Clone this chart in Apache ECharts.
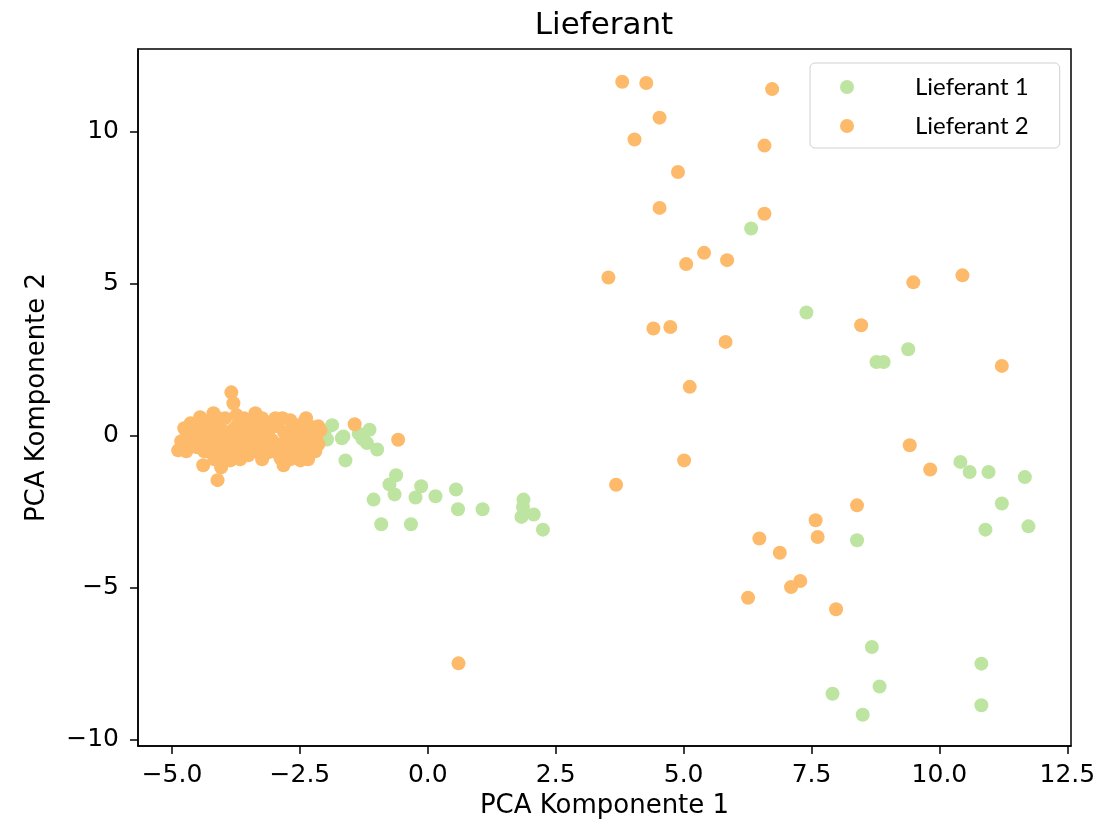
<!DOCTYPE html>
<html>
<head>
<meta charset="utf-8">
<script src="https://cdn.jsdelivr.net/npm/echarts@6/dist/echarts.min.js"></script>
<style>
  html, body { margin: 0; padding: 0; background: #fff; }
  #chart { width: 1119px; height: 829px; }
</style>
</head>
<body>
<div id="chart"></div>
<script>
// Daten (PCA Komponente 1, PCA Komponente 2)
var seriesNames = ['Lieferant 1', 'Lieferant 2'];
var xTicks = [-5, -2.5, 0, 2.5, 5, 7.5, 10, 12.5];
var yTicks = [-10, -5, 0, 5, 10];

var lieferant1 = [
    [-2.02, 0.12], [-1.87, 0.35], [-1.97, -0.12], [-1.68, -0.08], [-1.65, -0.02],
    [-1.35, 0.07], [-1.28, -0.10], [-1.14, 0.20], [-1.19, -0.24], [-0.99, -0.45],
    [-1.61, -0.81], [-0.62, -1.30], [-0.75, -1.60], [-0.65, -1.93], [-1.06, -2.10],
    [-0.13, -1.66], [-0.24, -2.03], [0.15, -1.99], [0.55, -1.77], [0.59, -2.42],
    [1.07, -2.42], [-0.91, -2.91], [-0.33, -2.91], [1.87, -2.10], [1.86, -2.34],
    [2.07, -2.59], [1.83, -2.67], [2.25, -3.09],
    [6.32, 6.82], [7.40, 4.06], [9.39, 2.85], [8.77, 2.43], [8.91, 2.43],
    [10.41, -0.86], [10.59, -1.19], [10.96, -1.19], [11.67, -1.36], [11.22, -2.23],
    [10.90, -3.09], [11.74, -2.98], [8.39, -3.44], [8.68, -6.95], [10.82, -7.50],
    [8.83, -8.25], [7.91, -8.49], [8.50, -9.18], [10.82, -8.87]
];

var lieferant2 = [
    // dichter Haufen links
    [-4.88, -0.48], [-4.82, -0.18], [-4.76, 0.25], [-4.72, -0.35], [-4.64, 0.41],
    [-4.58, -0.02], [-4.51, -0.38], [-4.45, 0.18], [-4.45, 0.61], [-4.39, -0.97],
    [-4.35, -0.15], [-4.29, 0.44], [-4.25, -0.54], [-4.19, 0.74], [-4.15, 0.02],
    [-4.11, -1.46], [-4.10, -0.31], [-4.06, 0.25], [-4.04, -1.04], [-4.00, -0.64],
    [-3.96, 0.58], [-3.94, -0.15], [-3.86, -0.81], [-3.84, 1.43], [-3.82, 0.18],
    [-3.80, 1.07], [-3.78, -0.41], [-3.74, 0.68], [-3.70, -0.08], [-3.67, 0.35],
    [-3.63, -0.54], [-3.57, 0.08], [-3.51, -0.64], [-3.47, 0.51], [-3.43, -0.21],
    [-3.37, 0.74], [-3.33, 0.18], [-3.27, -0.41], [-3.24, -0.05], [-3.18, 0.35],
    [-3.12, -0.54], [-3.08, 0.25], [-3.04, -0.15], [-2.98, 0.58], [-2.92, -0.35],
    [-2.88, -0.74], [-2.82, -0.97], [-2.81, 0.12], [-2.75, -0.15], [-2.69, 0.51],
    [-2.65, -0.48], [-2.59, 0.25], [-2.55, -0.05], [-2.49, -0.81], [-2.45, 0.41],
    [-2.41, -0.31], [-2.38, 0.12], [-2.32, -0.54], [-2.28, -0.15], [-2.24, 0.28],
    [-2.20, -0.51], [-2.18, -0.02], [-2.14, -0.28], [-2.10, 0.18],
    [-4.10, 0.58], [-3.59, 0.58], [-3.24, 0.58], [-2.84, 0.58], [-2.38, 0.58],
    [-4.54, 0.31], [-4.21, 0.31], [-3.74, 0.31], [-3.43, 0.31], [-2.94, 0.31],
    [-2.53, 0.31], [-2.14, 0.31],
    [-4.70, 0.05], [-4.39, 0.05], [-4.02, 0.05], [-3.53, 0.05], [-3.14, 0.05],
    [-2.69, 0.05], [-2.30, 0.05],
    [-4.61, -0.25], [-4.25, -0.25], [-3.86, -0.25], [-3.55, -0.25], [-3.18, -0.25],
    [-2.84, -0.25], [-2.57, -0.25], [-2.22, -0.25],
    [-4.72, -0.51], [-4.37, -0.51], [-3.90, -0.51], [-3.41, -0.51], [-3.00, -0.51],
    [-2.77, -0.51], [-2.47, -0.51],
    [-4.17, -0.77], [-3.67, -0.77], [-3.24, -0.77], [-2.69, -0.77], [-2.34, -0.77],
    [-1.43, 0.38], [-0.58, -0.13], [0.60, -7.49],
    // rechts verstreut
    [3.80, 11.65], [4.27, 11.61], [6.73, 11.41], [4.53, 10.47], [4.04, 9.75],
    [6.58, 9.55], [4.89, 8.68], [4.53, 7.50], [6.58, 7.31], [5.40, 6.02],
    [5.05, 5.65], [5.85, 5.78], [3.53, 5.21], [4.41, 3.53], [4.74, 3.58],
    [8.47, 3.64], [5.82, 3.09], [11.22, 2.30], [5.12, 1.61], [9.49, 5.05],
    [10.45, 5.28], [9.42, -0.31], [9.82, -1.11], [5.01, -0.81], [3.68, -1.61],
    [8.39, -2.29], [7.58, -2.78], [6.48, -3.38], [7.62, -3.33], [6.88, -3.85],
    [7.28, -4.78], [7.10, -4.98], [6.26, -5.33], [7.98, -5.71]
];

var colors = ['#bde4a0', '#fdba6b'];

function fmtX(v) {
    return (v < 0 ? '\u2212' : '') + Math.abs(v).toFixed(1);
}
function fmtY(v) {
    return (v < 0 ? '\u2212' : '') + Math.abs(v);
}

var chart = echarts.init(document.getElementById('chart'));

var axisFont = { fontFamily: 'DejaVu Sans', fontSize: 26, color: '#000' };

option = {
    backgroundColor: '#fff',
    animation: false,
    color: colors,
    title: {
        text: 'Lieferant',
        left: 599,
        top: 5,
        textAlign: 'center',
        textStyle: { fontFamily: 'DejaVu Sans', fontSize: 31, fontWeight: 'normal', color: '#000' }
    },
    legend: {
        data: seriesNames,
        orient: 'vertical',
        left: 810,
        top: 63,
        padding: [12, 31, 10, 30],
        itemWidth: 14,
        itemHeight: 14,
        itemGap: 15,
        icon: 'circle',
        backgroundColor: '#fff',
        borderColor: '#d0d0d0',
        borderWidth: 1,
        borderRadius: 5,
        textStyle: { fontFamily: 'Lato', fontSize: 24, lineHeight: 24, color: '#000', padding: [0, 0, 0, 56] }
    },
    grid: {
        left: 138,
        right: 48,
        top: 49,
        bottom: 83,
        show: true,
        borderColor: '#000',
        borderWidth: 1.5
    },
    xAxis: {
        type: 'value',
        min: -5.665,
        max: 12.572,
        name: 'PCA Komponente 1',
        nameLocation: 'middle',
        nameGap: 47,
        nameTextStyle: axisFont,
        splitLine: { show: false },
        axisLine: { show: true, onZero: false, lineStyle: { color: '#000', width: 1.5 } },
        axisTick: { show: true, length: 8, customValues: xTicks, lineStyle: { color: '#000', width: 1.5 } },
        axisLabel: { customValues: xTicks, margin: 17, formatter: fmtX, fontFamily: 'DejaVu Sans', fontSize: 25, color: '#000' }
    },
    yAxis: {
        type: 'value',
        min: -10.21,
        max: 12.73,
        name: 'PCA Komponente 2',
        nameLocation: 'middle',
        nameGap: 88,
        nameRotate: 90,
        nameTextStyle: axisFont,
        splitLine: { show: false },
        axisLine: { show: true, onZero: false, lineStyle: { color: '#000', width: 1.5 } },
        axisTick: { show: true, length: 8, customValues: yTicks, lineStyle: { color: '#000', width: 1.5 } },
        axisLabel: { customValues: yTicks, margin: 19, formatter: fmtY, fontFamily: 'DejaVu Sans', fontSize: 25, color: '#000' }
    },
    series: [
        {
            name: seriesNames[0],
            type: 'scatter',
            symbol: 'circle',
            symbolSize: 14,
            data: lieferant1,
            itemStyle: { color: colors[0], opacity: 1 },
            emphasis: { disabled: true }
        },
        {
            name: seriesNames[1],
            type: 'scatter',
            symbol: 'circle',
            symbolSize: 14,
            data: lieferant2,
            itemStyle: { color: colors[1], opacity: 1 },
            emphasis: { disabled: true }
        }
    ]
};

chart.setOption(option);
</script>
</body>
</html>
